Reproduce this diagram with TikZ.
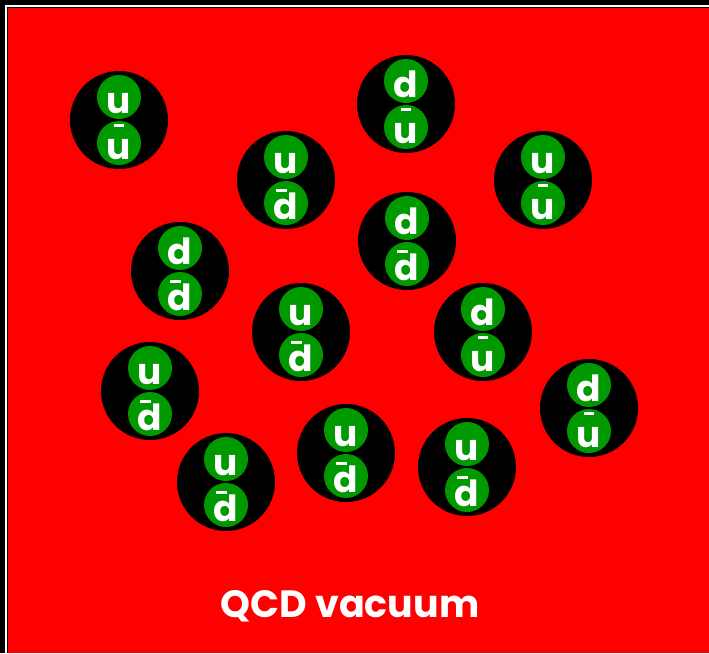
\documentclass[tikz,border=0pt]{standalone}
\usepackage{fontspec}
\setmainfont{Poppins}
\definecolor{vacred}{RGB}{255,0,0}
\definecolor{quarkgreen}{RGB}{0,153,0}
% bars over the antiquark letters
\newcommand\antiu{\ooalign{u\cr\hfil\raisebox{33pt}[0pt][0pt]{\rule{10.5pt}{3pt}}\hfil\cr}}
\newcommand\antid{\ooalign{d\cr\hfil\raisebox{28pt}[0pt][0pt]{\rule{10.5pt}{3pt}}\hspace{9pt}\hfil\cr}}
\tikzset{
  meson/.style={circle, fill=black, minimum size=98pt, inner sep=0pt},
  quark/.style={circle, fill=quarkgreen, minimum size=44pt, inner sep=0pt,
    text height=33pt, text depth=0pt,
    text=white, font=\bfseries\fontsize{36}{36}\selectfont},
}
\begin{document}
\begin{tikzpicture}[x=1pt, y=-1pt]
    \useasboundingbox (0,0) rectangle (709,653);
    \fill[black] (0,0) rectangle (709,653);
    \fill[white] (5,5) rectangle (709,653);
    \fill[black] (7,7) rectangle (709,653);
    \fill[vacred] (8,8) rectangle (709,653);
    % mesons
    \node[meson] (m1) at (119,120) {};
    \node[quark] (m1q) at ([yshift=23pt]m1.center) {u};
    \node[quark] (m1a) at ([yshift=-23pt]m1.center) {\antiu};
    \node[meson] (m2) at (406,104) {};
    \node[quark] (m2q) at ([yshift=23pt]m2.center) {d};
    \node[quark] (m2a) at ([yshift=-23pt]m2.center) {\antiu};
    \node[meson] (m3) at (286,180) {};
    \node[quark] (m3q) at ([yshift=23pt]m3.center) {u};
    \node[quark] (m3a) at ([yshift=-23pt]m3.center) {\antid};
    \node[meson] (m4) at (543,180) {};
    \node[quark] (m4q) at ([yshift=23pt]m4.center) {u};
    \node[quark] (m4a) at ([yshift=-23pt]m4.center) {\antiu};
    \node[meson] (m5) at (407,241) {};
    \node[quark] (m5q) at ([yshift=23pt]m5.center) {d};
    \node[quark] (m5a) at ([yshift=-23pt]m5.center) {\antid};
    \node[meson] (m6) at (180,271) {};
    \node[quark] (m6q) at ([yshift=23pt]m6.center) {d};
    \node[quark] (m6a) at ([yshift=-23pt]m6.center) {\antid};
    \node[meson] (m7) at (301,332) {};
    \node[quark] (m7q) at ([yshift=23pt]m7.center) {u};
    \node[quark] (m7a) at ([yshift=-23pt]m7.center) {\antid};
    \node[meson] (m8) at (483,332) {};
    \node[quark] (m8q) at ([yshift=23pt]m8.center) {d};
    \node[quark] (m8a) at ([yshift=-23pt]m8.center) {\antiu};
    \node[meson] (m9) at (150,391) {};
    \node[quark] (m9q) at ([yshift=23pt]m9.center) {u};
    \node[quark] (m9a) at ([yshift=-23pt]m9.center) {\antid};
    \node[meson] (m10) at (589,408) {};
    \node[quark] (m10q) at ([yshift=23pt]m10.center) {d};
    \node[quark] (m10a) at ([yshift=-23pt]m10.center) {\antiu};
    \node[meson] (m11) at (346,453) {};
    \node[quark] (m11q) at ([yshift=23pt]m11.center) {u};
    \node[quark] (m11a) at ([yshift=-23pt]m11.center) {\antid};
    \node[meson] (m12) at (467,467) {};
    \node[quark] (m12q) at ([yshift=23pt]m12.center) {u};
    \node[quark] (m12a) at ([yshift=-23pt]m12.center) {\antid};
    \node[meson] (m13) at (226,482) {};
    \node[quark] (m13q) at ([yshift=23pt]m13.center) {u};
    \node[quark] (m13a) at ([yshift=-23pt]m13.center) {\antid};
    % label
    \node[text=white, font=\bfseries\fontsize{38}{38}\selectfont] (vac) at (350,606) {QCD vacuum};
\end{tikzpicture}
\end{document}
